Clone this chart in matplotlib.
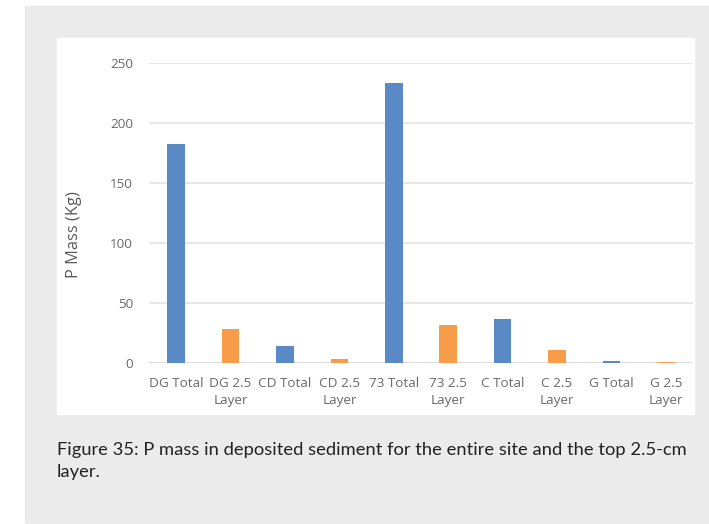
import matplotlib.pyplot as plt
from matplotlib.patches import Rectangle

# categories and values
categories = ["DG Total", "DG 2.5\nLayer", "CD Total", "CD 2.5\nLayer",
              "73 Total", "73 2.5\nLayer", "C Total", "C 2.5\nLayer",
              "G Total", "G 2.5\nLayer"]
p_mass = [182.1, 28.5, 14.6, 3.3, 233.4, 31.9, 37.1, 10.8, 2.2, 1.0]
yticks = [0, 50, 100, 150, 200, 250]

blue = "#5A8AC6"
orange = "#F79D4A"
bar_colors = [blue if "Total" in c else orange for c in categories]

W, H = 709, 524
fig = plt.figure(figsize=(W / 100, H / 100), dpi=100)
fig.patch.set_facecolor("white")

# grey page panel and white chart image
fig.patches.append(Rectangle((25 / W, 1 - 523 / H), 684 / W, 517 / H,
                             transform=fig.transFigure, color="#EBEBEB", zorder=-2))
fig.patches.append(Rectangle((57 / W, 1 - 414 / H), 637 / W, 376 / H,
                             transform=fig.transFigure, color="white", zorder=-1))

ax = fig.add_axes([149 / W, 1 - 363.3 / H, 544 / W, 300.6 / H])
ax.set_facecolor("none")
ax.bar(range(len(categories)), p_mass, width=0.32, color=bar_colors, zorder=3)

ax.set_xlim(-0.5, len(categories) - 0.5)
ax.set_ylim(0, 250)
ax.set_yticks(yticks)
ax.set_xticks(range(len(categories)))
ax.set_xticklabels(categories, fontsize=9.7, color="#6A6A6A", family="Open Sans",
                   linespacing=1.43, va="top")
ax.tick_params(axis="y", labelsize=9.7, labelcolor="#6A6A6A", length=0, pad=11.5)
ax.tick_params(axis="x", length=0, pad=10)
for t in ax.get_yticklabels():
    t.set_family("Open Sans")
ax.grid(axis="y", color="#E3E3E3", linewidth=1.2, zorder=0)
ax.axhline(0, color="#D9D9D9", linewidth=1.2, zorder=2)
for s in ax.spines.values():
    s.set_visible(False)

fig.text(74.5 / W, 1 - 235 / H, "P Mass (Kg)", rotation=90, ha="center", va="center",
         fontsize=11.8, color="#595959", family="Open Sans")

fig.text(57 / W, 1 - 450 / H, "Figure 35: P mass in deposited sediment for the entire site and the top 2.5-cm",
         fontsize=13.2, color="#222222", family="Lato", va="center")
fig.text(57 / W, 1 - 472 / H, "layer.",
         fontsize=13.2, color="#222222", family="Lato", va="center")

fig.savefig("out.png", dpi=100)
